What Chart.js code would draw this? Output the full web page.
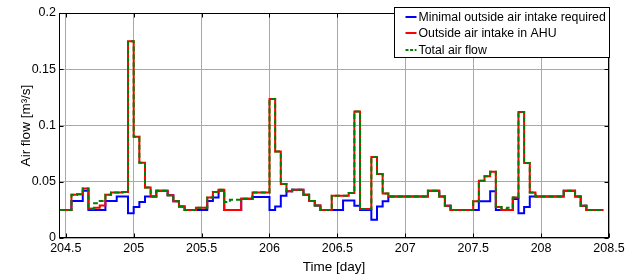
<!DOCTYPE html>
<html>
<head>
<meta charset="utf-8">
<script src="https://cdn.jsdelivr.net/npm/chart.js@4.4.0/dist/chart.umd.min.js"></script>
<style>
    html, body { margin: 0; padding: 0; background: #fff; }
    canvas { display: block; }
</style>
</head>
<body>
<canvas id="airflow" width="630" height="278"></canvas>
<script>
(function(Chart){

    // hourly samples, first one starts an hour before 204.5
    var firstHour = 204.5 - 1 / 24;

    var xTicks = [204.5, 205, 205.5, 206, 206.5, 207, 207.5, 208, 208.5];
    var yTicks = [0, 0.05, 0.1, 0.15, 0.2];

    var seriesNames = [
        'Minimal outside air intake required',
        'Outside air intake in AHU',
        'Total air flow'
    ];

    var minimalIntake = [
        .025, .025, .033, .033, .042, .025, .025, .025, .033, .033, .037, .037,
        .022, .0276, .032, .037, .037, .042, .042, .038, .0326, .028, .025, .025,
        .025, .025, .033, .036, .042, .025, .025, .025, .035, .035, .0365, .0365,
        .0365, .025, .028, .0376, .0415, .043, .043, .0385, .033, .029, .025, .025,
        .025, .025, .0334, .0334, .0287, .025, .025, .0163, .028, .0326, .037, .037,
        .037, .037, .037, .037, .037, .042, .042, .037, .0287, .025, .025, .025,
        .025, .025, .0326, .0326, .0415, .025, .025, .025, .0347, .022, .0276, .037,
        .037, .037, .037, .037, .037, .042, .042, .037, .0287, .025, .025, .025
    ];

    var ahuIntake = [
        .025, .025, .0385, .039, .044, .026, .027, .029, .0385, .0405, .0405, .041,
        .175, .090, .067, .045, .037, .042, .042, .038, .0326, .028, .025, .025,
        .027, .027, .036, .041, .043, .025, .025, .025, .035, .035, .0405, .0405,
        .0405, .1235, .077, .048, .0415, .043, .043, .0385, .033, .029, .025, .025,
        .0376, .0376, .0376, .040, .1125, .0258, .0258, .072, .057, .0395, .037, .037,
        .037, .037, .037, .037, .037, .042, .042, .037, .0287, .025, .025, .025,
        .025, .0326, .051, .055, .059, .0276, .025, .025, .036, .112, .0667, .0405,
        .037, .037, .037, .037, .037, .042, .042, .037, .0287, .025, .025, .025
    ];

    var totalFlow = [
        .025, .025, .0385, .039, .044, .026, .031, .033, .0385, .0405, .0405, .041,
        .175, .090, .067, .045, .037, .042, .042, .038, .0326, .028, .025, .025,
        .027, .027, .036, .041, .043, .032, .034, .034, .035, .035, .0405, .0405,
        .0405, .1235, .077, .048, .0415, .043, .043, .0385, .033, .029, .025, .025,
        .0376, .0376, .0376, .040, .1125, .0258, .0258, .072, .057, .0395, .037, .037,
        .037, .037, .037, .037, .037, .042, .042, .037, .0287, .025, .025, .025,
        .025, .0326, .051, .055, .059, .0276, .026, .027, .036, .112, .0667, .0405,
        .037, .037, .037, .037, .037, .042, .042, .037, .0287, .025, .025, .025
    ];

    var fontFamily = '"Liberation Sans", Arial, sans-serif';

    function toSteps(values) {
        var pts = values.map(function(v, i) {
            return { x: firstHour + i / 24, y: v };
        });
        // close the last hour
        pts.push({ x: firstHour + values.length / 24, y: values[values.length - 1] });
        return pts;
    }

    function tickList(list) {
        return function(scale) {
            scale.ticks = list.map(function(v) { return { value: v }; });
        };
    }

    // box round the axes, inward tick marks, and the legend in the corner
    var axesFrame = {
        id: 'axesFrame',
        afterDraw: function(chart) {
            var ctx = chart.ctx;
            var a = chart.chartArea;
            var xs = chart.scales.x, ys = chart.scales.y;
            var l = Math.round(a.left) + 0.5, r = Math.round(a.right) - 0.5;
            var t = Math.round(a.top) + 0.5, b = Math.round(a.bottom) - 0.5;

            ctx.save();
            ctx.strokeStyle = '#000';
            ctx.lineWidth = 1;
            ctx.strokeRect(l, t, r - l, b - t);

            ctx.beginPath();
            xTicks.forEach(function(v) {
                var px = Math.round(xs.getPixelForValue(v)) + 0.5;
                ctx.moveTo(px, b); ctx.lineTo(px, b - 4);
                ctx.moveTo(px, t); ctx.lineTo(px, t + 4);
            });
            yTicks.forEach(function(v) {
                var py = Math.round(ys.getPixelForValue(v)) + 0.5;
                ctx.moveTo(l, py); ctx.lineTo(l + 4, py);
                ctx.moveTo(r, py); ctx.lineTo(r - 4, py);
            });
            ctx.stroke();

            // legend
            ctx.font = '12.3px ' + fontFamily;
            var textW = 0;
            seriesNames.forEach(function(n) {
                textW = Math.max(textW, ctx.measureText(n).width);
            });
            var boxW = Math.round(24 + textW + 4);
            var boxH = 50;
            var bx = Math.round(a.right) - boxW + 0.5;
            var by = Math.round(a.top) - 6 + 0.5;

            ctx.fillStyle = '#fff';
            ctx.fillRect(bx, by, boxW, boxH);
            ctx.strokeStyle = '#000';
            ctx.strokeRect(bx, by, boxW, boxH);

            ctx.textBaseline = 'middle';
            ctx.textAlign = 'left';
            chart.data.datasets.forEach(function(ds, i) {
                var ly = Math.round(by + 9 + i * 16.5);
                ctx.beginPath();
                ctx.strokeStyle = ds.borderColor;
                ctx.lineWidth = 2;
                ctx.setLineDash(ds.borderDash ? [3, 1.6] : []);
                ctx.moveTo(bx + 11, ly);
                ctx.lineTo(bx + 22, ly);
                ctx.stroke();
                ctx.setLineDash([]);
                ctx.fillStyle = '#000';
                ctx.fillText(ds.label, bx + 24, ly + 0.5);
            });
            ctx.restore();
        }
    };

    var ctx = document.getElementById('airflow').getContext('2d');

    var chart = new Chart(ctx, {
        type: 'line',
        data: {
            datasets: [{
                label: seriesNames[0],
                data: toSteps(minimalIntake),
                borderColor: '#0000ff',
                order: 3
            },
            {
                label: seriesNames[1],
                data: toSteps(ahuIntake),
                borderColor: '#ff0000',
                order: 2
            },
            {
                label: seriesNames[2],
                data: toSteps(totalFlow),
                borderColor: '#008000',
                borderDash: [5, 3],
                order: 1
            }]
        },
        options: {
            responsive: false,
            animation: false,
            layout: { padding: { left: 0, top: 13, right: 21, bottom: 0 } },
            elements: {
                point: { radius: 0 },
                line: { tension: 0, borderWidth: 2, stepped: 'before', fill: false }
            },
            plugins: {
                legend: { display: false },
                tooltip: { enabled: false }
            },
            scales: {
                x: {
                    type: 'linear',
                    min: 204.45,
                    max: 208.5,
                    afterBuildTicks: tickList(xTicks),
                    afterFit: function(s) { s.height = 40; },
                    border: { display: false },
                    grid: { color: '#a8a8a8', drawTicks: false },
                    ticks: {
                        padding: 3,
                        color: '#000',
                        maxRotation: 0,
                        autoSkip: false,
                        font: { family: fontFamily, size: 12.5 },
                        callback: function(v) { return String(v); }
                    },
                    title: {
                        display: true,
                        text: 'Time [day]',
                        color: '#000',
                        font: { family: fontFamily, size: 13.5 },
                        padding: { top: 0, bottom: 3 }
                    }
                },
                y: {
                    min: 0,
                    max: 0.2,
                    afterBuildTicks: tickList(yTicks),
                    afterFit: function(s) { s.width = 59; },
                    border: { display: false },
                    grid: { color: '#a8a8a8', drawTicks: false },
                    ticks: {
                        padding: 3,
                        color: '#000',
                        font: { family: fontFamily, size: 12.5 },
                        callback: function(v) { return String(v); }
                    },
                    title: {
                        display: true,
                        text: 'Air flow [m³/s]',
                        color: '#000',
                        font: { family: fontFamily, size: 13.5 },
                        padding: { top: 18, bottom: 0 }
                    }
                }
            }
        },
        plugins: [axesFrame]
    });

})(Chart);
</script>
</body>
</html>
